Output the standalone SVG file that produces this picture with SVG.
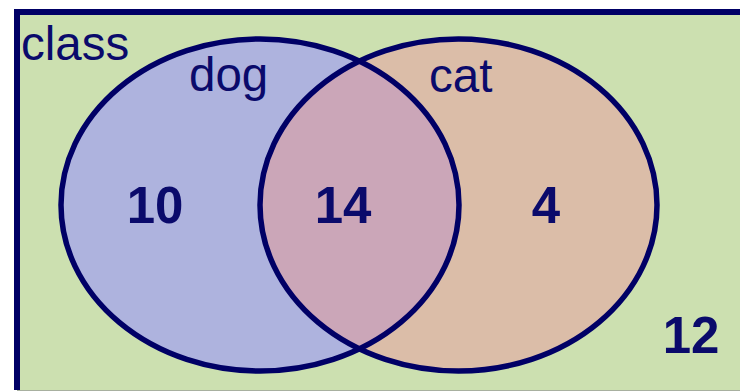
<svg xmlns="http://www.w3.org/2000/svg" width="740" height="392" viewBox="0 0 740 392">
  <style>
    .lbl { font-family: "Liberation Sans", Arial, sans-serif; font-size: 47.5px; fill: #0a0a6b; }
    .num { font-family: "Liberation Sans", Arial, sans-serif; font-size: 51px; font-weight: bold; fill: #0a0a6b; text-anchor: middle; }
    .edge { fill: none; stroke: #000066; stroke-width: 5.5; }
  </style>
  <defs>
    <clipPath id="dogClip">
      <ellipse cx="260" cy="205" rx="199" ry="166"/>
    </clipPath>
  </defs>
  <rect width="740" height="392" fill="#ffffff"/>
  <g id="class">
    <rect x="17" y="12" width="723" height="378" fill="#cce0b0"/>
    <line x1="17" y1="390.5" x2="740" y2="390.5" stroke="#a8b0a0" stroke-width="1"/>
    <path d="M17 390 V12 H740" fill="none" stroke="#000066" stroke-width="6"/>
    <text class="lbl" x="21" y="60">class</text>
    <text class="num" x="691" y="353">12</text>
  </g>
  <g id="dog">
    <ellipse cx="260" cy="205" rx="199" ry="166" fill="#aeb3de"/>
  </g>
  <g id="cat">
    <ellipse cx="458.5" cy="205" rx="198.5" ry="166" fill="#dbbda8"/>
  </g>
  <g id="dog-and-cat">
    <ellipse cx="458.5" cy="205" rx="198.5" ry="166" fill="#cba6b8" clip-path="url(#dogClip)"/>
  </g>
  <g id="outlines">
    <ellipse class="edge" cx="260" cy="205" rx="199" ry="166"/>
    <ellipse class="edge" cx="458.5" cy="205" rx="198.5" ry="166"/>
  </g>
  <g id="labels">
    <text class="lbl" x="189" y="91">dog</text>
    <text class="lbl" x="429" y="92">cat</text>
    <text class="num" x="155" y="223">10</text>
    <text class="num" x="343" y="223">14</text>
    <text class="num" x="546" y="223">4</text>
  </g>
</svg>
